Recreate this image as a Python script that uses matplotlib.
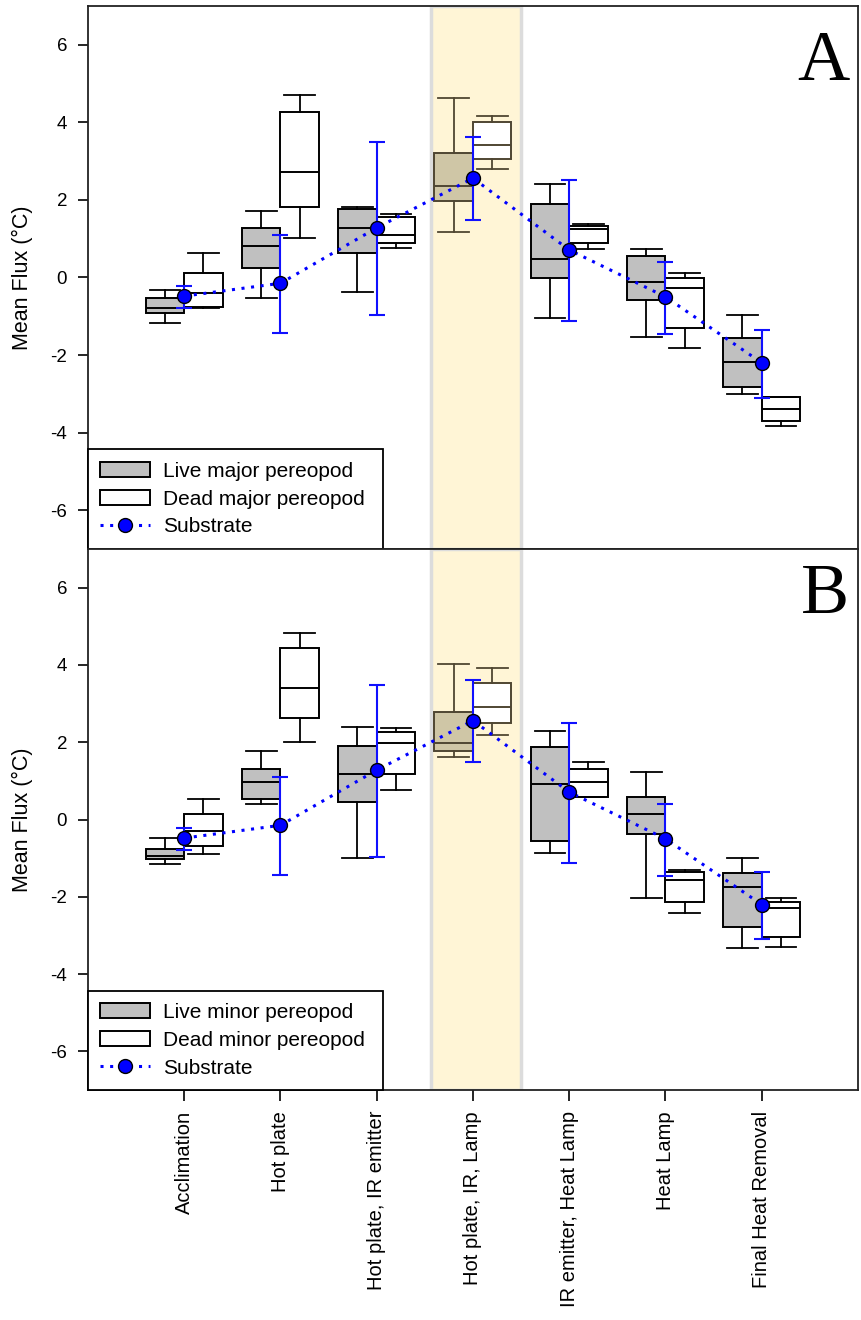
import matplotlib
matplotlib.use('Agg')
import matplotlib.pyplot as plt
from matplotlib.patches import Patch
from matplotlib.lines import Line2D
import numpy as np

plt.rcParams['font.family'] = ['Liberation Sans', 'DejaVu Sans']
plt.rcParams['axes.unicode_minus'] = False

treatments = ['Acclimation', 'Hot plate', 'Hot plate, IR emitter', 'Hot plate, IR, Lamp',
              'IR emitter, Heat Lamp', 'Heat Lamp', 'Final Heat Removal']

# box statistics per treatment: lower whisker, Q1, median, Q3, upper whisker
live_major = [[-1.18, -0.92, -0.79, -0.54, -0.32],
              [-0.54, 0.25, 0.81, 1.28, 1.71],
              [-0.37, 0.64, 1.28, 1.76, 1.81],
              [1.16, 1.98, 2.37, 3.20, 4.62],
              [-1.05, -0.02, 0.47, 1.89, 2.41],
              [-1.53, -0.58, -0.11, 0.55, 0.73],
              [-3.00, -2.83, -2.17, -1.57, -0.97]]
dead_major = [[-0.78, -0.75, -0.41, 0.11, 0.62],
              [1.03, 1.81, 2.71, 4.27, 4.70],
              [0.77, 0.90, 1.10, 1.55, 1.63],
              [2.80, 3.05, 3.42, 4.02, 4.15],
              [0.73, 0.90, 1.24, 1.33, 1.37],
              [-1.83, -1.31, -0.28, -0.01, 0.12],
              [-3.83, -3.69, -3.40, -3.09, -3.07]]
live_minor = [[-1.16, -1.03, -0.94, -0.77, -0.47],
              [0.39, 0.53, 0.96, 1.31, 1.78],
              [-0.99, 0.45, 1.17, 1.91, 2.40],
              [1.61, 1.78, 1.97, 2.79, 4.02],
              [-0.86, -0.56, 0.92, 1.87, 2.30],
              [-2.04, -0.38, 0.14, 0.57, 1.22],
              [-3.33, -2.77, -1.74, -1.38, -1.00]]
dead_minor = [[-0.90, -0.69, -0.30, 0.13, 0.52],
              [2.01, 2.62, 3.40, 4.45, 4.83],
              [0.76, 1.18, 1.97, 2.27, 2.36],
              [2.19, 2.49, 2.92, 3.52, 3.93],
              [0.57, 0.57, 0.96, 1.31, 1.50],
              [-2.43, -2.13, -1.57, -1.35, -1.31],
              [-3.29, -3.03, -2.30, -2.13, -2.04]]

# substrate mean and error bar ends
substrate_mean = [-0.48, -0.15, 1.28, 2.56, 0.71, -0.50, -2.20]
substrate_hi = [-0.22, 1.10, 3.48, 3.62, 2.51, 0.40, -1.35]
substrate_lo = [-0.80, -1.43, -0.98, 1.48, -1.13, -1.47, -3.10]

highlight = 3  # "Hot plate, IR, Lamp"
x = np.arange(1, len(treatments) + 1)


def to_stats(rows):
    return [dict(whislo=r[0], q1=r[1], med=r[2], q3=r[3], whishi=r[4], fliers=[]) for r in rows]


def draw_boxes(ax, rows, pos, face, face_hl):
    edge_hl = '#4f4632'
    for i, st in enumerate(to_stats(rows)):
        hl = (i == highlight)
        ec = edge_hl if hl else 'black'
        ax.bxp([st], positions=[pos[i]], widths=0.4, capwidths=0.32, patch_artist=True,
               showfliers=False, manage_ticks=False,
               boxprops=dict(facecolor=face_hl if hl else face, edgecolor=ec, linewidth=1.4),
               medianprops=dict(color=ec, linewidth=1.4),
               whiskerprops=dict(color=ec, linewidth=1.3),
               capprops=dict(color=ec, linewidth=1.3), zorder=3)


def panel(ax, live, dead, live_lbl, dead_lbl, letter, letter_y):
    ax.axvspan(3.56, 4.5, facecolor='#fff5d6', edgecolor='#dcdcdc', linewidth=2.5, zorder=0)
    draw_boxes(ax, live, x - 0.2, '#c0c0c0', '#cfc6a6')
    draw_boxes(ax, dead, x + 0.2, 'white', 'white')

    lo = np.array(substrate_mean) - np.array(substrate_lo)
    hi = np.array(substrate_hi) - np.array(substrate_mean)
    ax.errorbar(x, substrate_mean, yerr=[lo, hi], fmt='none', ecolor='#1010ff',
                elinewidth=1.5, capsize=5.5, capthick=1.5, zorder=4)
    ax.plot(x, substrate_mean, color='blue', linestyle=(0, (1, 2.15)), linewidth=2.2, zorder=5)
    ax.plot(x, substrate_mean, 'o', color='blue', markeredgecolor='black',
            markeredgewidth=1.0, markersize=10, zorder=6)

    ax.set_xlim(0, 8)
    ax.set_ylim(-7, 7)
    ax.set_yticks([-6, -4, -2, 0, 2, 4, 6])
    ax.tick_params(axis='y', direction='out', length=7, width=1.2, labelsize=13.5, pad=8)
    ax.set_ylabel('Mean Flux (°C)', fontsize=15.5)
    ax.yaxis.set_label_coords(-0.071, 0.5)
    for s in ax.spines.values():
        s.set_linewidth(1.3)
        s.set_color('#222222')

    ax.text(7.91, letter_y, letter, family='Liberation Serif', fontsize=52,
            ha='right', va='baseline')

    handles = [Patch(facecolor='#c0c0c0', edgecolor='black', linewidth=1.4, label=live_lbl),
               Patch(facecolor='white', edgecolor='black', linewidth=1.4, label=dead_lbl),
               Line2D([], [], color='blue', linestyle=(0, (1, 2.15)), linewidth=2.2, marker='o',
                      markerfacecolor='blue', markeredgecolor='black', markersize=10,
                      label='Substrate')]
    leg = ax.legend(handles=handles, loc='lower left', bbox_to_anchor=(0, 0, 0.383, 0.18),
                    mode='expand', borderaxespad=0, fontsize=15, handlelength=2.4,
                    handleheight=0.75, handletextpad=0.6, labelspacing=0.42,
                    borderpad=0.6, fancybox=False, framealpha=1, numpoints=1)
    leg.get_frame().set_edgecolor('black')
    leg.get_frame().set_linewidth(1.3)
    leg.set_zorder(10)


fig = plt.figure(figsize=(8.61, 13.2), dpi=100)
ax_a = fig.add_axes([0.1022, 0.5841, 0.8943, 0.4114])
ax_b = fig.add_axes([0.1022, 0.1742, 0.8943, 0.4099])

panel(ax_a, live_major, dead_major, 'Live major pereopod', 'Dead major pereopod', 'A', 5.09)
panel(ax_b, live_minor, dead_minor, 'Live minor pereopod', 'Dead minor pereopod', 'B', 5.34)

ax_a.tick_params(axis='x', bottom=False, labelbottom=False)
ax_b.set_xticks(x)
ax_b.set_xticklabels(treatments, rotation=90, fontsize=14.5)
ax_b.tick_params(axis='x', direction='out', length=8, width=1.2, pad=7)

fig.savefig('out.png', dpi=100)
